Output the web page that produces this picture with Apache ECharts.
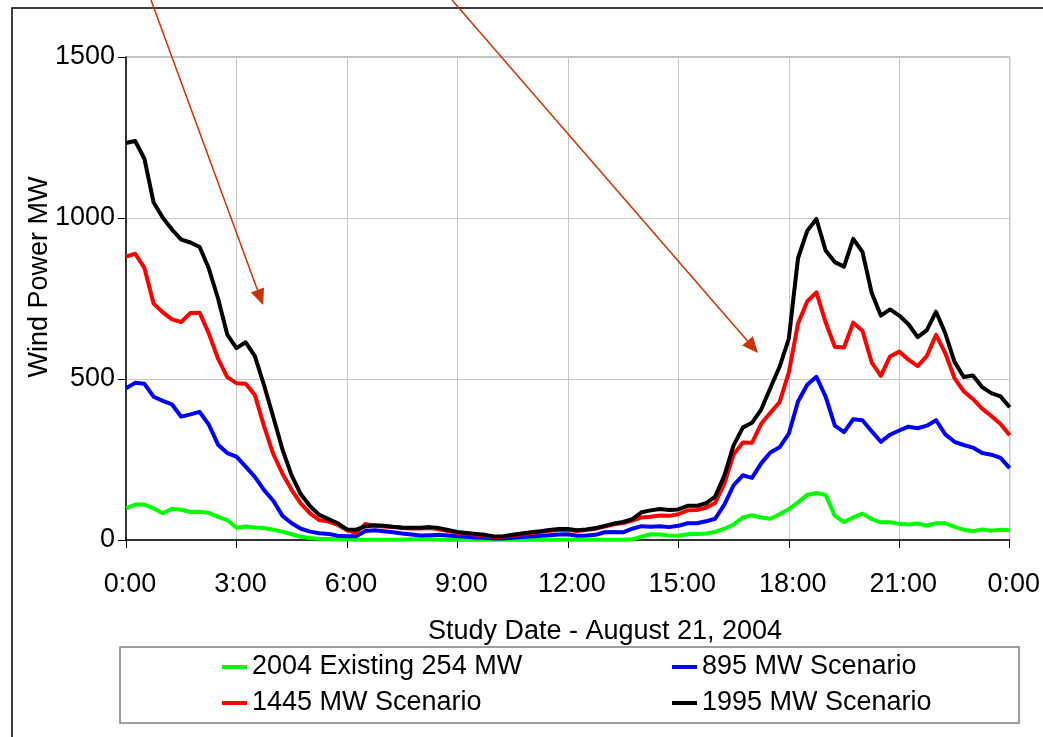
<!DOCTYPE html>
<html>
<head>
<meta charset="utf-8">
<script src="https://cdn.jsdelivr.net/npm/echarts@6/dist/echarts.min.js"></script>
<style>
html,body{margin:0;padding:0;background:#fff;}
#chart{width:1043px;height:737px;}
</style>
</head>
<body>
<div id="chart"></div>
<script>
// 15-minute samples, 0:00 .. 24:00
const seriesNames = ['2004 Existing 254 MW', '895 MW Scenario', '1445 MW Scenario', '1995 MW Scenario'];
const xTickLabels = ['0:00','3:00','6:00','9:00','12:00','15:00','18:00','21:00','0:00'];
const yTicks = [0, 500, 1000, 1500];

const existing254 = [98,110,110,98,83,97,94,87,88,84,72,62,38,42,39,37,32,26,18,10,6,4,3,2,2,
  1,1,1,1,1,1,2,2,2,1,1,1,1,1,1,1,1,1,1,1,1,1,1,1,1,1,1,1,1,1,2,
  10,18,17,14,13,18,19,20,25,35,48,70,77,70,66,80,96,117,140,146,140,75,56,70,82,65,55,55,50,48,51,45,52,52,41,32,27,33,29,32,30];

const scen895 = [471,488,485,445,432,421,383,390,398,358,296,270,259,
  228,196,155,122,75,52,35,26,21,19,13,12,
  12,28,30,27,24,20,17,14,15,16,14,12,10,8,7,5,5,7,9,11,13,15,17,18,
  13,14,16,24,25,24,35,43,41,43,40,44,52,52,58,66,
  110,170,201,193,238,272,288,330,430,482,507,445,355,
  335,375,372,338,305,327,340,352,347,355,372,328,305,295,287,270,265,255,223];

const scen1445 = [880,889,845,734,707,685,677,705,706,641,563,506,487,
  485,450,353,267,206,155,113,83,62,57,47,30,
  22,50,44,42,40,37,36,36,37,33,28,22,20,17,13,9,10,14,18,22,25,29,31,32,
  28,31,35,42,49,53,60,70,72,76,75,80,92,93,100,115,
  175,265,303,302,361,395,428,520,672,741,769,676,600,
  598,675,650,552,510,570,585,560,540,572,637,580,503,462,438,408,385,360,325];

const scen1995 = [1233,1239,1184,1048,1001,964,933,924,910,843,750,638,596,
  614,571,480,382,281,200,142,105,78,65,52,33,
  32,42,46,44,41,39,38,38,40,37,31,25,22,19,16,11,12,16,20,24,27,31,34,34,
  30,33,37,44,51,56,65,86,92,96,93,95,106,106,114,135,
  200,294,349,364,405,472,538,625,875,960,997,899,863,
  849,935,895,768,697,716,697,670,630,652,709,642,554,506,511,475,456,446,412];

const hours = existing254.map((_, i) => i * 0.25);
const pair = arr => arr.map((v, i) => [hours[i], v]);

const FONT = "'Liberation Sans', Arial, sans-serif";
const FS = 27;
const colors = ['#00ff00', '#0000ff', '#ff0000', '#000000'];
const values = [existing254, scen895, scen1445, scen1995];

const chart = echarts.init(document.getElementById('chart'), null, {renderer: 'canvas'});

const arrowColor = '#cc3300';
function arrow(x1, y1, x2, y2) {
  const dx = x2 - x1, dy = y2 - y1, L = Math.hypot(dx, dy);
  const ux = dx / L, uy = dy / L, px = -uy, py = ux;
  const hl = 16, hw = 7;
  const bx = x2 - ux * hl, by = y2 - uy * hl;
  return [
    {type: 'line', z: 100, shape: {x1: x1, y1: y1, x2: bx, y2: by}, style: {stroke: arrowColor, lineWidth: 1.5}},
    {type: 'polygon', z: 100, shape: {points: [[x2, y2], [bx + px * hw, by + py * hw], [bx - px * hw, by - py * hw]]}, style: {fill: arrowColor}}
  ];
}

const option = {
  animation: false,
  backgroundColor: '#fff',
  grid: {left: 126, right: 28, top: 57, bottom: 197, show: true, borderColor: '#808080', borderWidth: 1, backgroundColor: 'transparent'},
  xAxis: {
    type: 'value', min: 0, max: 24, interval: 3,
    axisLine: {show: true, lineStyle: {color: '#000', width: 1.5}},
    axisTick: {show: true, length: 8, lineStyle: {color: '#000', width: 1}},
    splitLine: {show: true, lineStyle: {color: '#c8c8c8', width: 1}},
    axisLabel: {
      color: '#000', fontFamily: FONT, fontSize: FS, margin: 31, padding: [0, 0, 0, 8],
      formatter: v => xTickLabels[Math.round(v / 3)]
    }
  },
  yAxis: {
    type: 'value', min: 0, max: 1500, interval: 500,
    axisLine: {show: true, lineStyle: {color: '#000', width: 1.5}},
    axisTick: {show: true, length: 8, lineStyle: {color: '#000', width: 1}},
    splitLine: {show: true, lineStyle: {color: '#c8c8c8', width: 1}},
    axisLabel: {color: '#000', fontFamily: FONT, fontSize: FS, margin: 11, padding: [10, 0, 0, 0],
      formatter: v => String(yTicks[Math.round(v / 500)])}
  },
  legend: [
    {
      left: 222, top: 649, orient: 'vertical', itemGap: 0, padding: 0,
      icon: 'rect', itemWidth: 25, itemHeight: 4,
      data: [seriesNames[0], seriesNames[2]],
      textStyle: {color: '#000', fontFamily: FONT, fontSize: FS, lineHeight: 36}
    },
    {
      left: 672, top: 649, orient: 'vertical', itemGap: 0, padding: 0,
      icon: 'rect', itemWidth: 25, itemHeight: 4,
      data: [seriesNames[1], seriesNames[3]],
      textStyle: {color: '#000', fontFamily: FONT, fontSize: FS, lineHeight: 36}
    }
  ],
  series: values.map((arr, k) => ({
    name: seriesNames[k], type: 'line', data: pair(arr),
    showSymbol: false, symbol: 'none', smooth: false,
    color: colors[k],
    lineStyle: {color: colors[k], width: 4, join: 'round'},
    z: 2 + k
  })),
  graphic: [
    {type: 'rect', z: -1, shape: {x: 12, y: 8, width: 1200, height: 900}, style: {fill: 'none', stroke: '#000', lineWidth: 1.5}},
    {type: 'rect', z: 0, shape: {x: 120, y: 647, width: 899, height: 76}, style: {fill: '#fff', stroke: '#808080', lineWidth: 1.5}},
    {type: 'text', z: 50, x: 605, y: 632, style: {text: 'Study Date - August 21, 2004', font: FS + 'px ' + FONT, fill: '#000', textAlign: 'center', textVerticalAlign: 'middle'}},
    {type: 'text', z: 50, x: 40, y: 277, rotation: Math.PI / 2, style: {text: 'Wind Power MW', font: FS + 'px ' + FONT, fill: '#000', textAlign: 'center', textVerticalAlign: 'middle'}},
    ...arrow(151, 0, 263, 305),
    ...arrow(452, 0, 758, 353)
  ]
};
chart.setOption(option);
</script>
</body>
</html>
